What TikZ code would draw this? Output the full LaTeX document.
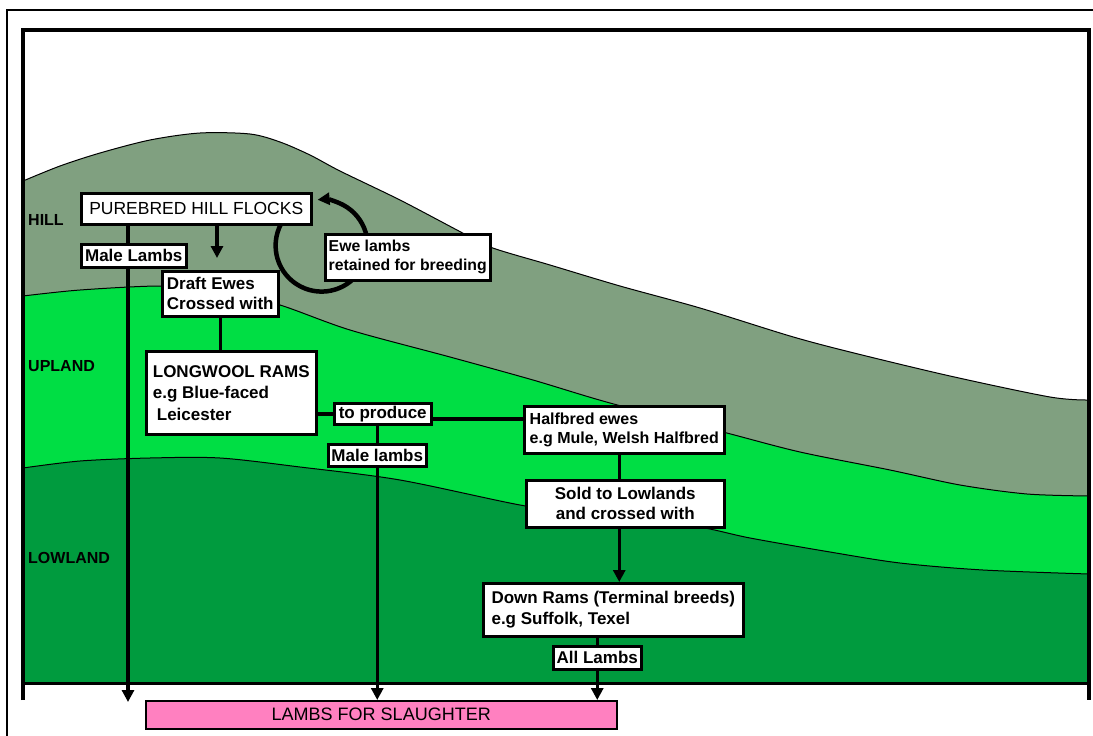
\documentclass[tikz,border=0pt]{standalone}
\usepackage{fontspec}
\setmainfont{Liberation Sans}
\usetikzlibrary{arrows.meta}

\definecolor{hillgreen}{RGB}{128,160,128}
\definecolor{uplandgreen}{RGB}{0,222,68}
\definecolor{lowlandgreen}{RGB}{0,155,62}
\definecolor{slaughterpink}{RGB}{255,128,192}

\pgfdeclarelayer{land}
\pgfdeclarelayer{wires}
\pgfsetlayers{land,wires,main}

\tikzset{
  box/.style={draw, fill=white, line width=2.5pt, anchor=north west, inner xsep=3pt, inner ysep=0pt,
    align=left, font=\bfseries\fontsize{17}{20}\selectfont},
  boxsize/.style 2 args={minimum width=#1, minimum height=#2},
  zone/.style={anchor=west, inner sep=0pt, font=\bfseries\fontsize{16}{18}\selectfont},
  wire/.style={line width=3.5pt},
  arrowwire/.style={wire, -{Triangle[length=12pt,width=12pt]}},
}

\begin{document}
\begin{tikzpicture}[x=1pt,y=-1pt]
\useasboundingbox (0,0) rectangle (1093,736);

% boxes
\node[box, boxsize={230}{31}, font=\fontsize{17.5}{20}\selectfont] (flocks) at (80,192) {PUREBRED HILL FLOCKS};
\node[box, boxsize={105}{23}] (malelambsA) at (80,243) {Male Lambs};
\node[box, boxsize={116}{45}] (draft) at (161,270) {Draft Ewes\\Crossed with};
\node[box, boxsize={165}{46}, font=\bfseries\fontsize{15.8}{19}\selectfont] (ewe) at (324,233) {Ewe lambs\\retained for breeding};
\node[box, boxsize={170}{83}, font=\bfseries\fontsize{17}{21.5}\selectfont] (longwool) at (145,350) {LONGWOOL RAMS\\e.g Blue-faced\\\hspace*{4pt}Leicester};
\node[box, boxsize={97}{21}] (produce) at (333,402) {to produce};
\node[box, boxsize={98}{22}] (malelambsB) at (327,443) {Male lambs};
\node[box, boxsize={200}{47}, font=\bfseries\fontsize{16}{19}\selectfont] (halfbred) at (523,405) {Halfbred ewes\\e.g Mule, Welsh Halfbred};
\node[box, boxsize={198}{47}, align=center] (sold) at (525,479) {Sold to Lowlands\\and crossed with};
\node[box, boxsize={260}{53}, font=\bfseries\fontsize{17}{21}\selectfont] (downrams) at (482,582) {Down Rams (Terminal breeds)\\e.g Suffolk, Texel};
\node[box, boxsize={88}{23}] (alllambs) at (552,645) {All Lambs};
\node[box, boxsize={471}{28}, fill=slaughterpink, line width=1.5pt, font=\fontsize{18}{20}\selectfont] (slaughter) at (145,700) {LAMBS FOR SLAUGHTER};

% zone labels
\node[zone] (hilllabel) at (28,220) {HILL};
\node[zone] (uplandlabel) at (28,366) {UPLAND};
\node[zone] (lowlandlabel) at (28,558) {LOWLAND};

% land
\begin{pgfonlayer}{land}
\filldraw[fill=hillgreen, draw=black, line width=1pt] plot[smooth] coordinates {(23,181) (60,166) (100,153) (150,140) (200,133) (250,134) (280,142) (310,155) (340,171) (400,200) (457,230) (490,247) (550,265) (620,286) (700,308) (790,336) (850,352) (950,376) (1050,397) (1089,400)} -- (1089,683) -- (23,683) -- cycle;
\filldraw[fill=uplandgreen, draw=black, line width=1pt] plot[smooth] coordinates {(23,296) (80,290) (160,286) (220,290) (280,305) (350,330) (450,357) (533,380) (610,403) (723,432) (800,452) (890,470) (960,485) (1027,494) (1089,496)} -- (1089,683) -- (23,683) -- cycle;
\filldraw[fill=lowlandgreen, draw=black, line width=1pt] plot[smooth] coordinates {(23,468) (80,461) (150,458) (220,458) (300,467) (400,480) (520,505) (600,517) (693,526) (750,538) (830,552) (900,563) (983,570) (1089,574)} -- (1089,683) -- (23,683) -- cycle;
\end{pgfonlayer}

% frame and connectors
\begin{pgfonlayer}{wires}
\draw[line width=1.2pt] (7,736) -- (7,10) -- (1093,10);
\draw[line width=4pt] (23,700) -- (23,30) -- (1089,30) -- (1089,700);
\draw[line width=3pt] (23,683) -- (1089,683);

\coordinate (hilltip) at (128,702);
\coordinate (drafttip) at (217,258);
\coordinate (arcstart) at (281,224);
\draw[arrowwire] (flocks.south -| hilltip) -- (hilltip);
\draw[arrowwire] (flocks.south -| drafttip) -- (drafttip);
\draw[arrowwire, line width=4.5pt] (arcstart) arc[start angle=208, end angle=-95, radius=46];
\draw[wire] (draft.south) -- (draft.south |- longwool.north);
\draw[wire] (longwool.east |- produce.west) -- (produce.west);
\draw[wire] ([yshift=-5pt]produce.east) -- ([yshift=-5pt]produce.east -| halfbred.west);
\draw[wire] (produce.south -| malelambsB.north) -- (malelambsB.north);
\draw[arrowwire] (malelambsB.south) -- (malelambsB.south |- slaughter.north);
\draw[wire] ([xshift=-5pt]halfbred.south) -- ([xshift=-5pt]halfbred.south |- sold.north);
\draw[arrowwire] ([xshift=-6pt]sold.south) -- ([xshift=-6pt]sold.south |- downrams.north);
\draw[wire] (downrams.south -| alllambs.north) -- (alllambs.north);
\draw[arrowwire] (alllambs.south) -- (alllambs.south |- slaughter.north);
\end{pgfonlayer}

\end{tikzpicture}
\end{document}
